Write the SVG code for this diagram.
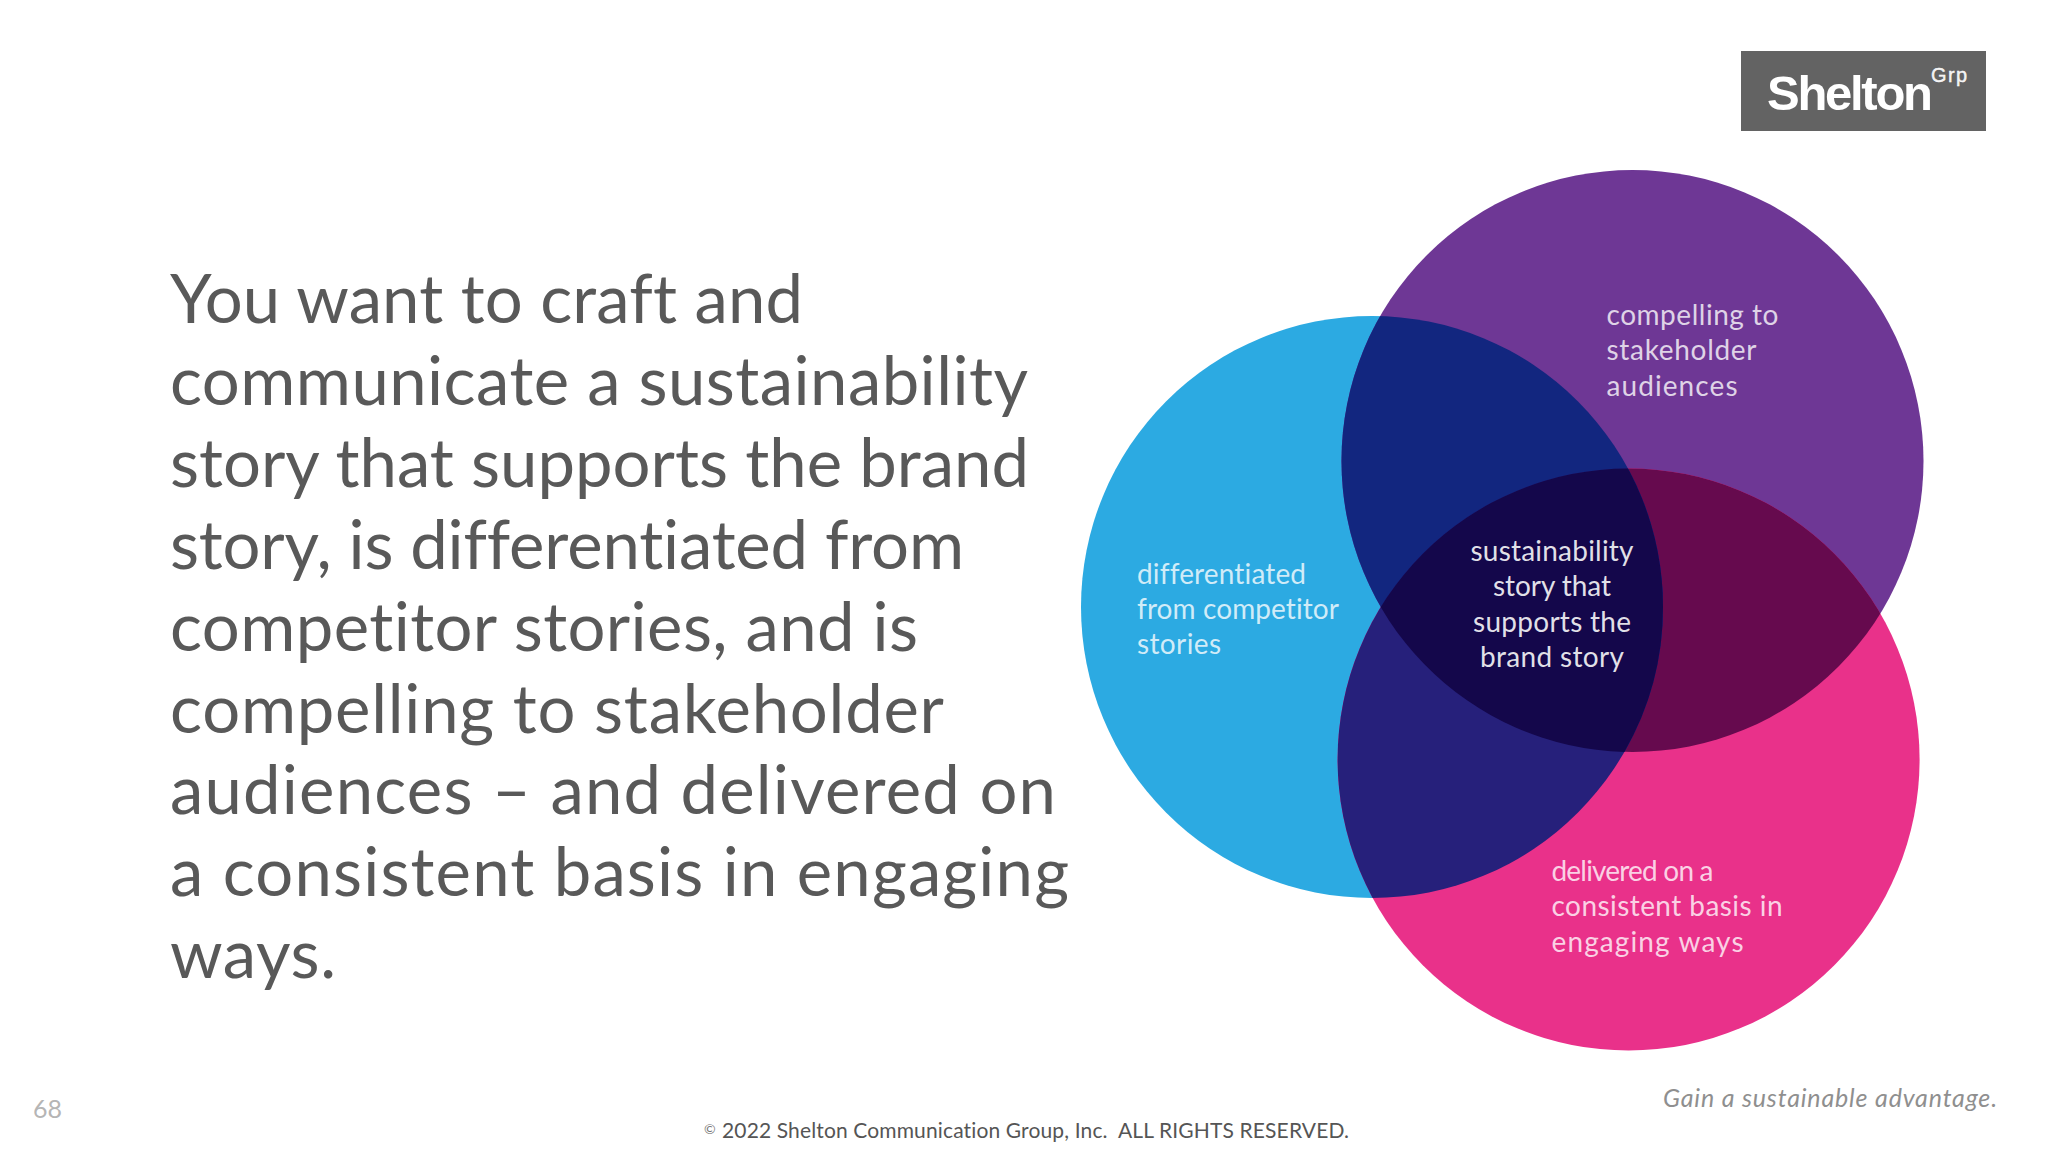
<svg xmlns="http://www.w3.org/2000/svg" width="2048" height="1152" viewBox="0 0 2048 1152">
<style>
text{font-family:"Lato","Open Sans","Liberation Sans",sans-serif;font-variant-ligatures:none}
.m{font-size:67px;fill:#595959}
.l{font-size:28px;fill:#ffffff;fill-opacity:.78}
.c{text-anchor:middle;fill-opacity:.88}
.logo{font-family:"Liberation Sans",sans-serif;fill:#fff}
</style>
<defs>
<clipPath id="cpC"><circle cx="1372" cy="607" r="291"/></clipPath>
<clipPath id="cpP"><circle cx="1632.5" cy="461" r="291"/></clipPath>
<clipPath id="cpPC" clip-path="url(#cpC)"><circle cx="1632.5" cy="461" r="291"/></clipPath>
</defs>
<rect width="2048" height="1152" fill="#ffffff"/>
<g id="body-text">
<text class="m" x="170" y="323" textLength="633">You want to craft and</text>
<text class="m" x="170" y="405" textLength="858">communicate a sustainability</text>
<text class="m" x="170" y="487" textLength="859">story that supports the brand</text>
<text class="m" x="170" y="569" textLength="794">story, is differentiated from</text>
<text class="m" x="170" y="651" textLength="748">competitor stories, and is</text>
<text class="m" x="170" y="733" textLength="774">compelling to stakeholder</text>
<text class="m" x="170" y="814" textLength="886">audiences – and delivered on</text>
<text class="m" x="170" y="896" textLength="899">a consistent basis in engaging</text>
<text class="m" x="170" y="978" textLength="166">ways.</text>
</g>
<g id="venn">
<circle id="circle-differentiated" cx="1372" cy="607" r="291" fill="#2CAAE2"/>
<circle id="circle-compelling" cx="1632.5" cy="461" r="291" fill="#6E3795"/>
<circle id="circle-delivered" cx="1628.6" cy="759.5" r="291" fill="#E9318A"/>
<g clip-path="url(#cpP)"><circle cx="1628.6" cy="759.5" r="291" fill="#660A4E"/></g>
<g clip-path="url(#cpC)"><circle cx="1632.5" cy="461" r="291" fill="#12267F"/><circle cx="1628.6" cy="759.5" r="291" fill="#26207B"/></g>
<g clip-path="url(#cpPC)"><circle cx="1628.6" cy="759.5" r="291" fill="#14074B"/></g>
</g>
<g id="label-differentiated">
<text class="l" x="1137" y="584" textLength="169">differentiated</text>
<text class="l" x="1137" y="619" textLength="202">from competitor</text>
<text class="l" x="1137" y="654" textLength="84">stories</text>
</g>
<g id="label-compelling">
<text class="l" x="1606.5" y="325" textLength="172">compelling to</text>
<text class="l" x="1606.5" y="360" textLength="150">stakeholder</text>
<text class="l" x="1606.5" y="395.5" textLength="131">audiences</text>
</g>
<g id="label-delivered">
<text class="l" x="1551.5" y="881" textLength="162">delivered on a</text>
<text class="l" x="1551.5" y="916" textLength="231">consistent basis in</text>
<text class="l" x="1551.5" y="951.5" textLength="192">engaging ways</text>
</g>
<g id="label-center">
<text class="l c" x="1552" y="560.5" textLength="163">sustainability</text>
<text class="l c" x="1552" y="596" textLength="118">story that</text>
<text class="l c" x="1552" y="631.5" textLength="158">supports the</text>
<text class="l c" x="1552" y="666.5" textLength="144">brand story</text>
</g>
<g id="logo">
<rect x="1741" y="51" width="245" height="80" fill="#636363"/>
<text class="logo" x="1767" y="110" font-size="49" font-weight="700" textLength="166">Shelton</text>
<text class="logo" x="1931" y="82" font-size="20" fill-opacity=".92" stroke="#fff" stroke-width=".4" textLength="36">Grp</text>
</g>
<g id="footer">
<text x="33" y="1118" font-size="25" fill="#b5b5b5">68</text>
<text x="704" y="1134" font-size="14" fill="#777">©</text>
<text x="722" y="1137.5" font-size="21" fill="#555" textLength="627">2022 Shelton Communication Group, Inc.&#160; ALL RIGHTS RESERVED.</text>
<text x="1663" y="1106.5" font-size="25" font-style="italic" fill="#8f8f8f" textLength="334">Gain a sustainable advantage.</text>
</g>
</svg>
